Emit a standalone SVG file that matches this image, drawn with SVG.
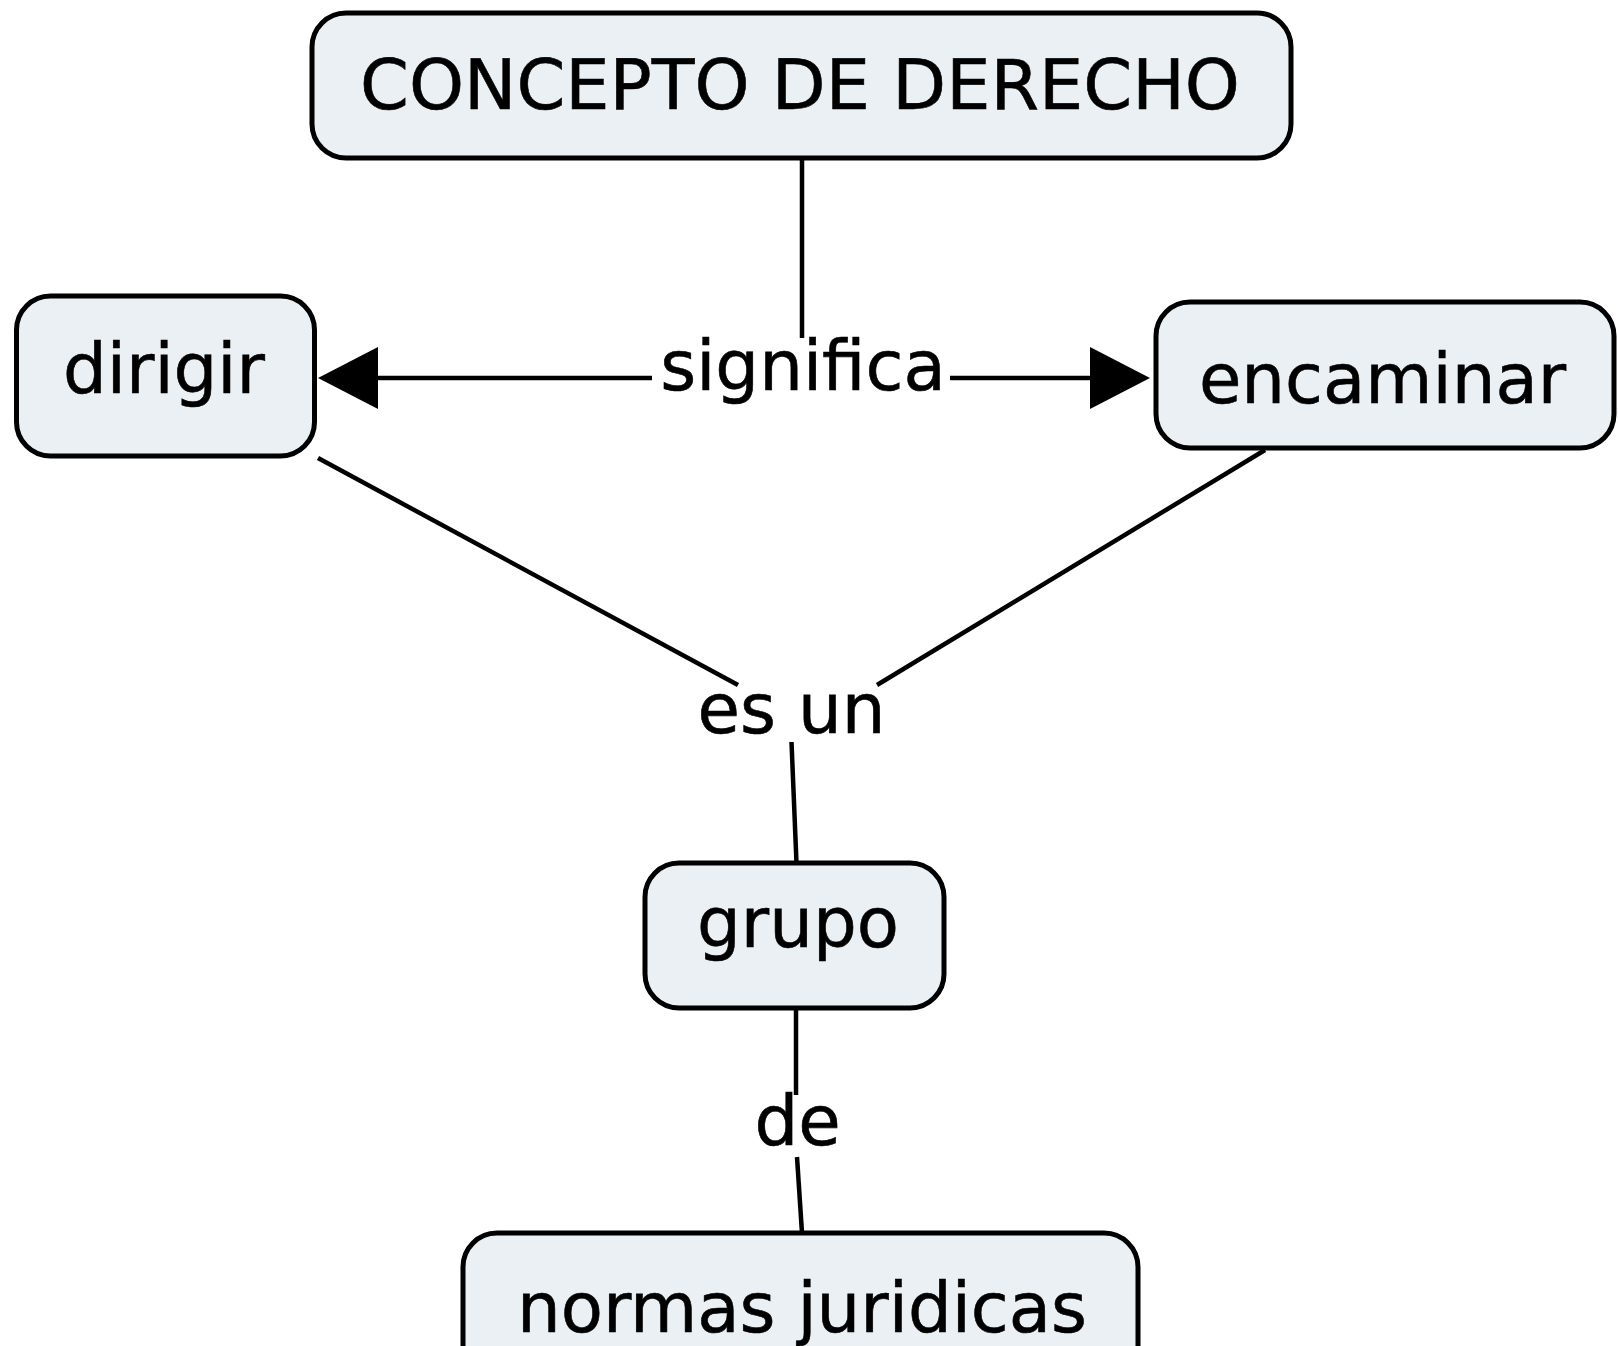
<svg xmlns="http://www.w3.org/2000/svg" width="1618" height="1346" viewBox="0 0 1618 1346">
  <style>
    .box { fill: #EAF0F3; stroke: #000; stroke-width: 5; }
    .lbl { font-family: "DejaVu Sans", Verdana, sans-serif; font-size: 69px; fill: #000; stroke: #000; stroke-width: 0.6; text-anchor: middle; }
    .title { font-size: 70px; }
    .con { stroke: #000; stroke-width: 4.5; fill: none; }
  </style>
  <defs>
    <marker id="arrow" viewBox="0 0 60 62" refX="0" refY="31" markerWidth="60" markerHeight="62" markerUnits="userSpaceOnUse" orient="auto">
      <path d="M0,0 L60,31 L0,62 Z" fill="#000"/>
    </marker>
  </defs>
  <rect width="1618" height="1346" fill="#fff"/>

  <g id="connectors">
    <line class="con" x1="802" y1="159" x2="802" y2="338"/>
    <line class="con" x1="652" y1="378" x2="378" y2="378" marker-end="url(#arrow)"/>
    <line class="con" x1="950" y1="378" x2="1090" y2="378" marker-end="url(#arrow)"/>
    <line class="con" x1="318" y1="458" x2="738" y2="685"/>
    <line class="con" x1="1265" y1="450" x2="877" y2="685"/>
    <line class="con" x1="791.5" y1="742" x2="796.5" y2="863"/>
    <line class="con" x1="796" y1="1010" x2="796" y2="1095"/>
    <line class="con" x1="797" y1="1157" x2="802" y2="1233"/>
  </g>

  <g id="lbl-significa"><text class="lbl" x="803" y="390">significa</text></g>
  <g id="lbl-esun"><text class="lbl" x="791.5" y="733">es un</text></g>
  <g id="lbl-de"><text class="lbl" x="797.5" y="1145">de</text></g>

  <g id="node-concepto">
    <rect class="box" x="312" y="13" width="979" height="145" rx="34"/>
    <text class="lbl title" x="800" y="108.5">CONCEPTO DE DERECHO</text>
  </g>
  <g id="node-dirigir">
    <rect class="box" x="16.5" y="296" width="298" height="160" rx="34"/>
    <text class="lbl" x="164" y="393">dirigir</text>
  </g>
  <g id="node-encaminar">
    <rect class="box" x="1156" y="302" width="458" height="146" rx="34"/>
    <text class="lbl" x="1382.5" y="403">encaminar</text>
  </g>
  <g id="node-grupo">
    <rect class="box" x="645" y="863" width="299" height="145" rx="34"/>
    <text class="lbl" x="798" y="947">grupo</text>
  </g>
  <g id="node-normas">
    <rect class="box" x="463" y="1233" width="675" height="160" rx="34"/>
    <text class="lbl" x="802" y="1332">normas juridicas</text>
  </g>
</svg>
